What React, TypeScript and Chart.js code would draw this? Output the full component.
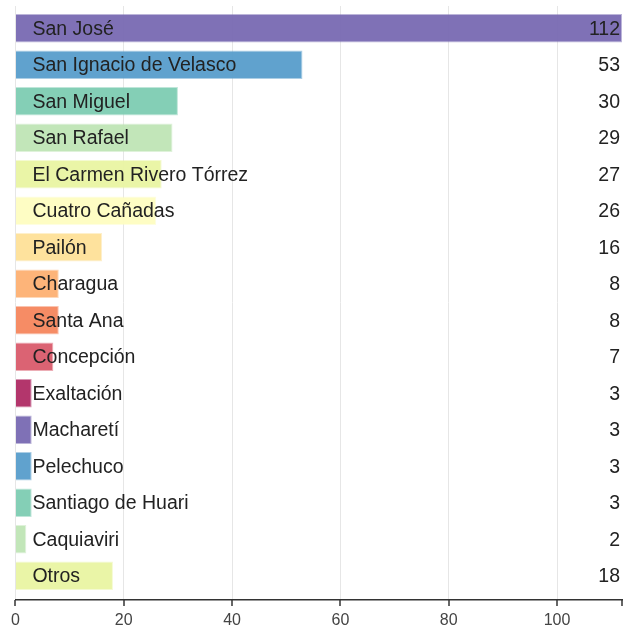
import React, { useEffect, useRef } from "react";
import { Chart, registerables } from "chart.js";

Chart.register(...registerables);

const categories = [
  "San José",
  "San Ignacio de Velasco",
  "San Miguel",
  "San Rafael",
  "El Carmen Rivero Tórrez",
  "Cuatro Cañadas",
  "Pailón",
  "Charagua",
  "Santa Ana",
  "Concepción",
  "Exaltación",
  "Macharetí",
  "Pelechuco",
  "Santiago de Huari",
  "Caquiaviri",
  "Otros",
];
const values = [112, 53, 30, 29, 27, 26, 16, 8, 8, 7, 3, 3, 3, 3, 2, 18];
const barColors = [
  "#7a6bb3",
  "#5a9ecc",
  "#7fcdb3",
  "#bfe5b6",
  "#e9f5a3",
  "#fefdc2",
  "#fee199",
  "#fdb174",
  "#f6875f",
  "#da5d6d",
  "#b02e66",
  "#7a6bb3",
  "#5a9ecc",
  "#7fcdb3",
  "#bfe5b6",
  "#e9f5a3",
];
const xTicks = [0, 20, 40, 60, 80, 100];
const xMax = 112;

const FONT = '"Liberation Sans", Arial, sans-serif';

const labelPlugin = {
  id: "barLabels",
  afterDatasetsDraw(chart: any) {
    const ctx = chart.ctx;
    const meta = chart.getDatasetMeta(0);
    const area = chart.chartArea;
    ctx.save();
    ctx.font = "19.5px " + FONT;
    ctx.fillStyle = "#222";
    ctx.textBaseline = "middle";
    meta.data.forEach((bar: any, i: number) => {
      ctx.textAlign = "left";
      ctx.fillText(categories[i], area.left + 17, bar.y + 1);
      ctx.textAlign = "right";
      ctx.fillText(String(values[i]), area.right - 2, bar.y + 1);
    });
    ctx.restore();
  },
};

const insetPlugin = {
  id: "bandInset",
  afterLayout(chart: any) {
    const y = chart.scales.y;
    y.top = chart.chartArea.top + 4;
    y.bottom = chart.chartArea.bottom - 6;
    y.height = y.bottom - y.top;
    y.configure();
  },
};

export default function App() {
  const ref = useRef<HTMLCanvasElement>(null);
  useEffect(() => {
    if (!ref.current) return;
    const chart = new Chart(ref.current, {
      type: "bar",
      data: {
        labels: categories,
        datasets: [
          {
            data: values,
            backgroundColor: barColors.map((c) => c + "f5"),
            borderColor: barColors.map((c) => c + "80"),
            borderWidth: 1,
            categoryPercentage: 1,
            barPercentage: 0.78,
          },
        ],
      },
      options: {
        indexAxis: "y",
        animation: false,
        responsive: true,
        maintainAspectRatio: false,
        layout: { padding: { left: 15, top: 6, right: 2, bottom: 0 } },
        plugins: { legend: { display: false }, tooltip: { enabled: false } },
        scales: {
          x: {
            min: 0,
            max: xMax,
            afterBuildTicks(axis: any) {
              axis.ticks = xTicks.map((v) => ({ value: v }));
            },
            afterFit(axis: any) {
              axis.height = 26;
            },
            grid: {
              color: "#e6e6e6",
              lineWidth: 1,
              drawTicks: false,
            },
            border: { display: true, color: "#333", width: 1.5 },
            ticks: {
              color: "#444",
              font: { family: FONT, size: 16 },
              padding: 11,
              maxRotation: 0,
            },
          },
          y: { display: false },
        },
      },
      plugins: [
        insetPlugin,
        labelPlugin,
        {
          id: "tickMarks",
          afterDraw(chart: any) {
            const ctx = chart.ctx;
            const xs = chart.scales.x;
            const bottom = chart.chartArea.bottom;
            ctx.save();
            ctx.strokeStyle = "#333";
            ctx.lineWidth = 1.5;
            [...xTicks, xMax].forEach((v) => {
              const px = Math.round(xs.getPixelForValue(v));
              ctx.beginPath();
              ctx.moveTo(px, bottom);
              ctx.lineTo(px, bottom + 6);
              ctx.stroke();
            });
            ctx.restore();
          },
        },
      ],
    });
    return () => chart.destroy();
  }, []);
  return (
    <div style={{ position: "fixed", left: 0, top: 0, width: 624, height: 626, background: "#fff" }}>
      <canvas ref={ref} />
    </div>
  );
}
